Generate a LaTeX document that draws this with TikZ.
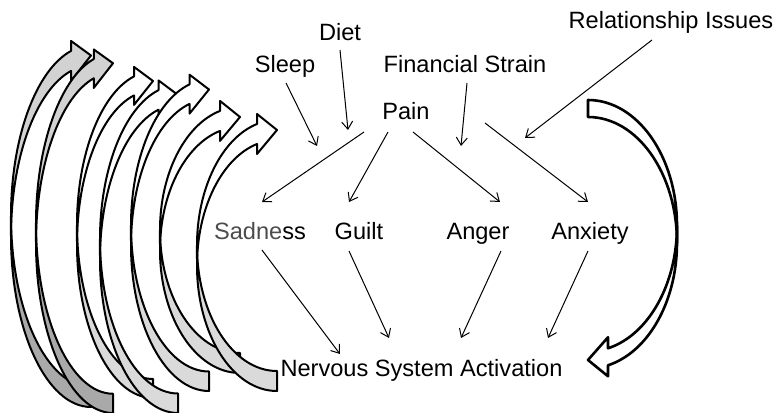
\documentclass[tikz,border=0pt]{standalone}
\usepackage{fontspec}
\setmainfont{Liberation Sans}
\usetikzlibrary{arrows.meta,calc}
\definecolor{gfront}{HTML}{D2D2D2}
\definecolor{gback}{HTML}{A9A9A9}
\definecolor{lback}{HTML}{DADADA}
\tikzset{
  frontc/.store in=\frontc, backc/.store in=\backc,
  frontc=white, backc=white,
  lbl/.style={anchor=base, inner sep=0pt, font=\fontsize{11.8}{14}\selectfont},
  conn/.style={line width=0.5pt, -{Straight Barb[length=3.8pt,width=5.5pt]}},
  blockarrow/.style={line width=1pt, line join=round, draw=black},
}
\newcommand\crvarrow[6]{%
 \begin{scope}[blockarrow,#1]
  \pgfmathsetmacro\cW{#2}%
  \pgfmathsetmacro\cH{#3}%
  \pgfmathsetmacro\cth{#4}%
  \pgfmathsetmacro\caw{#5}%
  \pgfmathsetmacro\cah{#6}%
  \pgfmathsetmacro\chR{\cH/2-(\cth+\caw)/4}%
  \pgfmathsetmacro\cal{acos(\cah/\cW)}%
  \pgfmathsetmacro\cdy{\chR*sin(\cal)}%
  \pgfmathsetmacro\cyfive{\chR+\cdy}%
  \pgfmathsetmacro\cyseven{\chR+\cth+\cdy}%
  \pgfmathsetmacro\cdh{(\caw-\cth)/2}%
  \pgfmathsetmacro\cyfour{\cyfive-\cdh}%
  \pgfmathsetmacro\cyeight{\cyseven+\cdh}%
  \pgfmathsetmacro\cysix{\cH-\caw/2}%
  \pgfmathsetmacro\cxone{\cW-\cah}%
  \pgfmathsetmacro\cta{180-\cal}%
  \pgfmathsetmacro\cyt{\chR+\cth}%
  \filldraw[fill=\frontc] (0,\chR) arc[start angle=180,end angle=\cta,x radius=\cW,y radius=\chR]
    -- (\cxone,\cyfour) -- (\cW,\cysix) -- (\cxone,\cyeight) -- (\cxone,\cyseven)
    arc[start angle=\cta,end angle=180,x radius=\cW,y radius=\chR] -- cycle;
  \filldraw[fill=\backc] (\cW,\cth) arc[start angle=270,end angle=180,x radius=\cW,y radius=\chR]
    -- (0,\chR) arc[start angle=180,end angle=270,x radius=\cW,y radius=\chR] -- cycle;
 \end{scope}}
\begin{document}
\begin{tikzpicture}[x=0.5pt,y=-0.5pt]
\useasboundingbox (0,0) rectangle (778,413);
% left stack of curved arrows (tail at bottom right, head at top right)
\crvarrow{shift={(11,407)},yscale=-1,frontc=gfront,backc=gback}{80}{371.5}{20}{40}{20}
\crvarrow{shift={(36,413)},yscale=-1,frontc=gfront,backc=gback}{77}{369}{19.25}{38.5}{19.25}
\crvarrow{shift={(77,398)},yscale=-1,frontc=white,backc=lback}{76}{336}{19}{38}{19}
\crvarrow{shift={(100,413)},yscale=-1,frontc=white,backc=lback}{78}{337.5}{19.5}{39}{19.5}
\crvarrow{shift={(131,391)},yscale=-1,frontc=white,backc=lback}{78}{321}{19.5}{39}{19.5}
\crvarrow{shift={(160,373)},yscale=-1,frontc=white,backc=lback}{80}{276}{20}{40}{20}
\crvarrow{shift={(197,391)},yscale=-1,frontc=white,backc=lback}{80}{281}{20}{40}{20}
% right curved arrow (tail top left, head bottom left)
\crvarrow{shift={(677,100)},xscale=-1,frontc=white,backc=white,line width=1.3pt}{89}{279.5}{17}{39}{20}
% labels
\node[lbl] (diet) at (340,40) {Diet};
\node[lbl] (sleep) at (285,72) {Sleep};
\node[lbl] (fin) at (465,72) {Financial Strain};
\node[lbl] (rel) at (671,28) {Relationship Issues};
\node[lbl] (pain) at (406,119) {Pain};
\node[lbl] (sad) at (260,239) {{\color{black!70}Sadne}ss};
\node[lbl] (guilt) at (359,239) {Guilt};
\node[lbl] (anger) at (478,239) {Anger};
\node[lbl] (anx) at (590,239) {Anxiety};
\node[lbl] (nsa) at (421.5,376) {Nervous System Activation};
% free ends
\coordinate (tSleep) at (317,146);
\coordinate (tDiet) at (348,130);
\coordinate (tFin) at (461,146);
\coordinate (tRel) at (525,138);
% connectors
\draw[conn] ($(sleep.base)+(1,11)$) -- (tSleep);
\draw[conn] ($(diet.base)+(0,10)$) -- (tDiet);
\draw[conn] ($(fin.base)+(2,11)$) -- (tFin);
\draw[conn] ($(rel.base)+(-19,12)$) -- (tRel);
\draw[conn] ($(pain.base)+(-42,13)$) -- ($(sad.base)+(2,-37)$);
\draw[conn] ($(pain.base)+(-18,13)$) -- ($(guilt.base)+(-10,-37)$);
\draw[conn] ($(pain.base)+(7,13)$) -- ($(anger.base)+(22,-37)$);
\draw[conn] ($(pain.base)+(79,4)$) -- ($(anx.base)+(-2,-37)$);
\draw[conn] ($(sad.base)+(2,11)$) -- ($(nsa.base)+(-81.5,-22)$);
\draw[conn] ($(guilt.base)+(-10,12)$) -- ($(nsa.base)+(-32.5,-38)$);
\draw[conn] ($(anger.base)+(23,12)$) -- ($(nsa.base)+(39.5,-38)$);
\draw[conn] ($(anx.base)+(-2,12)$) -- ($(nsa.base)+(126.5,-38)$);
\end{tikzpicture}
\end{document}
